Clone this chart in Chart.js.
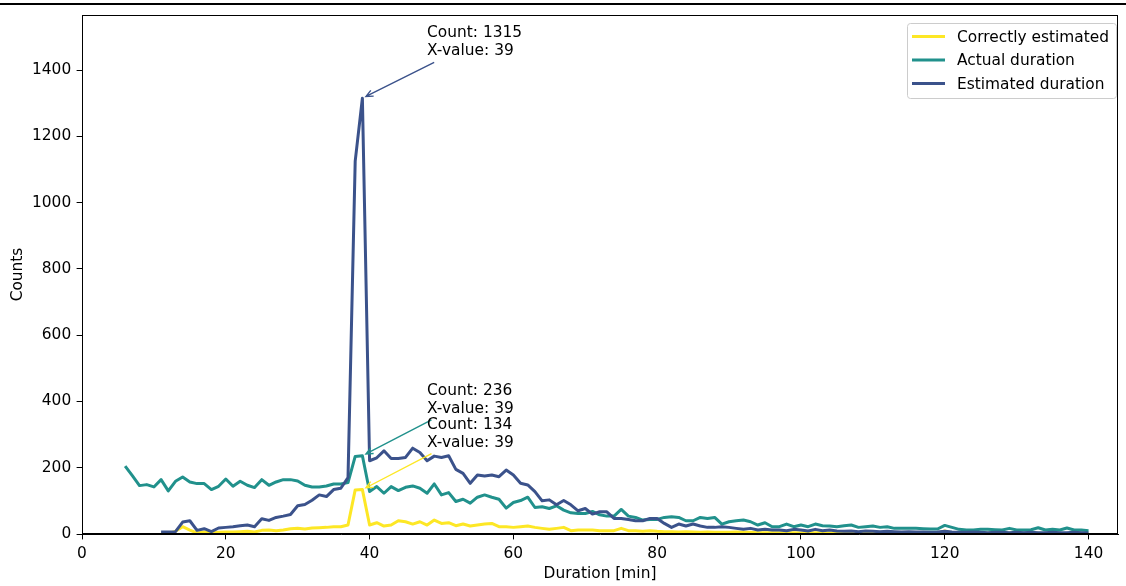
<!DOCTYPE html>
<html>
<head>
<meta charset="utf-8">
<script src="https://cdn.jsdelivr.net/npm/chart.js@4.4.1/dist/chart.umd.min.js"></script>
<style>
  html, body { margin: 0; padding: 0; background: #fff; }
  #wrap { position: absolute; left: 0; top: 0; width: 1126px; height: 586px; }
  #topRule { position: absolute; left: 0; top: 3px; width: 1126px; height: 2px; background: #000; }
</style>
</head>
<body>
<div id="wrap"><canvas id="durationChart" width="1126" height="586"></canvas></div>
<div id="topRule"></div>
<script>
// durations in minutes
const minutes = [
  6, 7, 8, 9, 10, 11, 12, 13, 14, 15, 16, 17, 18, 19, 20, 21, 22, 23, 24, 25,
  26, 27, 28, 29, 30, 31, 32, 33, 34, 35, 36, 37, 38, 39, 40, 41, 42, 43, 44, 45,
  46, 47, 48, 49, 50, 51, 52, 53, 54, 55, 56, 57, 58, 59, 60, 61, 62, 63, 64, 65,
  66, 67, 68, 69, 70, 71, 72, 73, 74, 75, 76, 77, 78, 79, 80, 81, 82, 83, 84, 85,
  86, 87, 88, 89, 90, 91, 92, 93, 94, 95, 96, 97, 98, 99, 100, 101, 102, 103, 104, 105,
  106, 107, 108, 109, 110, 111, 112, 113, 114, 115, 116, 117, 118, 119, 120, 121, 122, 123, 124, 125,
  126, 127, 128, 129, 130, 131, 132, 133, 134, 135, 136, 137, 138, 139, 140
];

const actualCounts = [
  205, 176, 146, 149, 142, 164, 130, 159, 172, 157, 152, 152, 134, 144, 166, 144, 159, 147, 140, 164,
  147, 157, 164, 164, 160, 147, 142, 142, 145, 151, 151, 155, 234, 236, 128, 143, 123, 143, 131, 141,
  145, 138, 123, 151, 118, 125, 98, 105, 93, 111, 118, 111, 105, 78, 95, 101, 111, 80, 82, 77,
  85, 72, 64, 62, 62, 68, 58, 54, 54, 74, 54, 50, 42, 44, 44, 50, 52, 50, 40, 40,
  50, 47, 50, 30, 37, 40, 42, 37, 27, 34, 22, 22, 30, 22, 27, 22, 30, 25, 24, 22,
  25, 27, 20, 22, 24, 20, 22, 17, 17, 17, 17, 16, 15, 15, 26, 20, 14, 12, 12, 14,
  14, 13, 12, 17, 12, 12, 13, 19, 12, 14, 12, 18, 12, 12, 10
];

const estimatedCounts = [
  null, null, null, null, null, 6, 6, 7, 36, 40, 11, 16, 7, 18, 20, 22, 25, 27, 22, 46,
  41, 50, 54, 59, 85, 89, 102, 118, 113, 134, 138, 170, 1125, 1315, 221, 230, 251, 228, 228, 231,
  259, 246, 221, 235, 231, 236, 195, 183, 153, 178, 175, 178, 173, 193, 178, 153, 148, 128, 100, 103,
  88, 101, 88, 70, 77, 60, 67, 67, 47, 47, 44, 40, 40, 47, 47, 32, 20, 30, 24, 30,
  24, 20, 20, 22, 20, 17, 14, 17, 12, 14, 12, 12, 10, 14, 12, 9, 14, 10, 12, 9,
  8, 9, 7, 9, 8, 7, 8, 7, 6, 7, 6, 6, 5, 6, 8, 6, 5, 5, 6, 5,
  4, 5, 5, 4, 5, 4, 5, 4, 4, 5, 4, 4, 5, 4, 3
];

const correctCounts = [
  null, null, null, null, null, 0, 2, 8, 22, 12, 3, 6, 3, 5, 6, 6, 7, 8, 6, 11,
  12, 10, 12, 16, 17, 15, 18, 19, 20, 22, 22, 27, 133, 134, 27, 34, 24, 27, 40, 37,
  30, 37, 27, 42, 32, 34, 25, 30, 24, 27, 30, 32, 22, 22, 20, 22, 24, 20, 17, 14,
  17, 20, 10, 12, 12, 12, 10, 10, 10, 17, 10, 10, 8, 10, 8, 7, 7, 6, 7, 6,
  5, 6, 5, 5, 5, 6, 5, 5, 4, 4, 4, 4, 3, 4, 3, 3, 4, 3, 3, 3,
  3, 3, 2, 3, 3, 2, 3, 2, 2, 3, 2, 2, 2, 2, 9, 3, 2, 2, 2, 2,
  2, 2, 1, 2, 2, 1, 2, 2, 1, 2, 1, 1, 2, 1, 1
];

const xTicks = [0, 20, 40, 60, 80, 100, 120, 140];
const yTicks = [0, 200, 400, 600, 800, 1000, 1200, 1400];

const seriesNames = ['Correctly estimated', 'Actual duration', 'Estimated duration'];
const seriesColors = ['#fde725', '#21918c', '#3b528b'];

// peak annotations: minute and count at that minute
const peakMinute = 39;
const peakLabels = [
  { count: 1315, color: seriesColors[2] },
  { count: 236, color: seriesColors[1] },
  { count: 134, color: seriesColors[0] }
];

const FONT = '"DejaVu Sans", "Liberation Sans", sans-serif';
const FS = 15.4;
const TICK = 5.4;

function toPoints(values) {
  return minutes.map((m, i) => ({ x: m, y: values[i] })).filter(p => p.y !== null);
}

const overlay = {
  id: 'overlay',
  afterDraw(chart) {
    const { ctx, chartArea: a, scales } = chart;
    const xs = scales.x, ys = scales.y;
    ctx.save();

    // axes frame
    ctx.strokeStyle = '#000';
    ctx.lineWidth = 1;
    ctx.strokeRect(a.left + 0.5, a.top + 0.5, a.right - a.left - 1, a.bottom - a.top - 1);

    // arrows with count labels
    ctx.font = FS + 'px ' + FONT;
    ctx.textAlign = 'left';
    ctx.textBaseline = 'alphabetic';
    peakLabels.forEach(p => {
      const px = xs.getPixelForValue(peakMinute);
      const py = ys.getPixelForValue(p.count);
      const tx = xs.getPixelForValue(48);
      const base2 = py - 43;
      const base1 = base2 - 17.8;
      const l1 = 'Count: ' + p.count;
      const l2 = 'X-value: ' + peakMinute;
      ctx.fillStyle = '#000';
      ctx.fillText(l1, tx, base1);
      ctx.fillText(l2, tx, base2);
      const w = Math.max(ctx.measureText(l1).width, ctx.measureText(l2).width);
      const top = base1 - 12, bot = base2 + 3.6;
      const cx = tx + w / 2, cy = (top + bot) / 2;
      const pad = 3.5;
      const dx = px - cx, dy = py - cy;
      let t = Infinity;
      if (dx) t = Math.min(t, ((dx > 0 ? tx + w + pad : tx - pad) - cx) / dx);
      if (dy) t = Math.min(t, ((dy > 0 ? bot + pad : top - pad) - cy) / dy);
      const sx = cx + dx * t, sy = cy + dy * t;
      const len = Math.hypot(px - sx, py - sy);
      const ux = (px - sx) / len, uy = (py - sy) / len;
      const ex = px - ux * 4, ey = py - uy * 4;
      ctx.strokeStyle = p.color;
      ctx.lineWidth = 1.4;
      ctx.beginPath();
      ctx.moveTo(sx, sy);
      ctx.lineTo(ex, ey);
      ctx.moveTo(ex - ux * 7 - uy * 3.2, ey - uy * 7 + ux * 3.2);
      ctx.lineTo(ex, ey);
      ctx.lineTo(ex - ux * 7 + uy * 3.2, ey - uy * 7 - ux * 3.2);
      ctx.stroke();
    });

    // legend
    const bx = 907, by = 23, bw = 209, bh = 75;
    ctx.beginPath();
    ctx.roundRect(bx + 0.5, by + 0.5, bw, bh, 3);
    ctx.fillStyle = 'rgba(255,255,255,0.8)';
    ctx.fill();
    ctx.strokeStyle = '#cccccc';
    ctx.lineWidth = 1;
    ctx.stroke();
    ctx.textBaseline = 'middle';
    seriesNames.forEach((name, i) => {
      const ly = 36.5 + i * 23.5;
      ctx.strokeStyle = seriesColors[i];
      ctx.lineWidth = 3;
      ctx.beginPath();
      ctx.moveTo(912, ly);
      ctx.lineTo(945, ly);
      ctx.stroke();
      ctx.fillStyle = '#000';
      ctx.fillText(name, 957, ly + 1);
    });
    ctx.restore();
  }
};

Chart.defaults.font.family = FONT;
Chart.defaults.font.size = FS;
Chart.defaults.color = '#000';

new Chart(document.getElementById('durationChart').getContext('2d'), {
  type: 'line',
  data: {
    datasets: [
      { label: seriesNames[0], data: toPoints(correctCounts), borderColor: seriesColors[0], order: 3 },
      { label: seriesNames[1], data: toPoints(actualCounts), borderColor: seriesColors[1], order: 2 },
      { label: seriesNames[2], data: toPoints(estimatedCounts), borderColor: seriesColors[2], order: 1 }
    ]
  },
  options: {
    responsive: false,
    animation: false,
    devicePixelRatio: 1,
    layout: { padding: { top: 15, right: 8, left: 0, bottom: 0 } },
    elements: {
      line: { borderWidth: 3, tension: 0, borderJoinStyle: 'round', borderCapStyle: 'butt' },
      point: { radius: 0, hoverRadius: 0 }
    },
    plugins: { legend: { display: false }, tooltip: { enabled: false } },
    scales: {
      x: {
        type: 'linear',
        min: 0,
        max: 144.1,
        afterFit: s => { s.height = 52; },
        afterBuildTicks: s => { s.ticks = xTicks.map(v => ({ value: v })); },
        grid: { drawOnChartArea: false, drawTicks: true, tickLength: TICK, tickColor: '#000' },
        border: { display: true, color: '#000' },
        ticks: { padding: TICK, maxRotation: 0, color: '#000', callback: v => String(v) },
        title: { display: true, text: 'Duration [min]', color: '#000', padding: { top: 0, bottom: 3 } }
      },
      y: {
        min: 0,
        max: 1566,
        afterFit: s => { s.width = 82; },
        afterBuildTicks: s => { s.ticks = yTicks.map(v => ({ value: v })); },
        grid: { drawOnChartArea: false, drawTicks: true, tickLength: TICK, tickColor: '#000' },
        border: { display: true, color: '#000' },
        ticks: { padding: TICK, color: '#000', callback: v => String(v) },
        title: { display: true, text: 'Counts', color: '#000', padding: { top: 9, bottom: 0 } }
      }
    }
  },
  plugins: [overlay]
});
</script>
</body>
</html>
